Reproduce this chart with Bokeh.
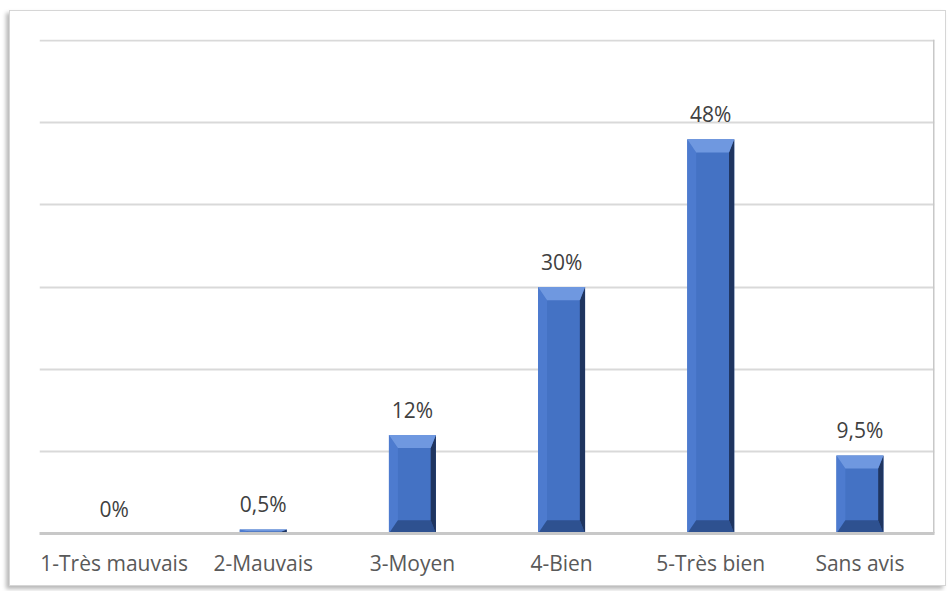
from bokeh.plotting import figure
from bokeh.models import Range1d, FixedTicker, Span, ColumnDataSource
from bokeh.core.properties import value
from bokeh.embed import file_html
from bokeh.resources import INLINE

categories = ["1-Très mauvais", "2-Mauvais", "3-Moyen", "4-Bien", "5-Très bien", "Sans avis"]
values = [0, 0.5, 12, 30, 48, 9.5]
y_ticks = [10, 20, 30, 40, 50, 60]

labels = [("%g" % v).replace(".", ",") + "%" for v in values]
xs = [i + 0.5 for i in range(len(categories))]

FONT = "Open Sans"
BAR_W = 0.315
BEV_X = 0.06
BEV_XR = 0.035
BEV_Y = 1.6

p = figure(width=937, height=576, x_range=Range1d(0, len(categories)), y_range=Range1d(0, 60.15),
           output_backend="svg", toolbar_location=None,
           min_border_left=29, min_border_right=13, min_border_top=28, min_border_bottom=54,
           styles={"border": "1px solid #d6d6d6", "box-shadow": "-3px 3px 4px rgba(0,0,0,0.28)",
                   "margin-left": "9px", "margin-top": "10px"})
p.outline_line_color = None
p.background_fill_color = "white"
p.border_fill_color = "white"

p.yaxis.visible = False
p.xgrid.visible = False
p.ygrid.ticker = FixedTicker(ticks=y_ticks)
p.ygrid.grid_line_color = "#d9d9d9"
p.ygrid.grid_line_width = 2

ax = p.xaxis[0]
ax.ticker = FixedTicker(ticks=xs)
ax.major_label_overrides = {x: c for x, c in zip(xs, categories)}
ax.major_tick_line_color = None
ax.minor_tick_line_color = None
ax.axis_line_color = "#c8c8c8"
ax.axis_line_width = 3
ax.major_label_text_font = FONT
ax.major_label_text_font_size = "21px"
ax.major_label_text_color = "#595959"
ax.major_label_standoff = 9

p.add_layout(Span(location=len(categories), dimension="height", line_color="#c8c8c8", line_width=3))

# bars with bevel
face_x, face_top = [], []
top_xs, top_ys, right_xs, right_ys, bot_xs, bot_ys, left_xs, left_ys = [], [], [], [], [], [], [], []
for x, v in zip(xs, values):
    if v <= 0:
        continue
    x0, x1 = x - BAR_W / 2, x + BAR_W / 2
    b = min(BEV_Y, v / 2)
    face_x.append(x)
    face_top.append(v)
    top_xs.append([x0, x1, x1 - BEV_XR, x0 + BEV_X]); top_ys.append([v, v, v - b, v - b])
    right_xs.append([x1, x1, x1 - BEV_XR, x1 - BEV_XR]); right_ys.append([v, 0, b, v - b])
    bot_xs.append([x0, x1, x1 - BEV_XR, x0 + BEV_X]); bot_ys.append([0, 0, b, b])
    left_xs.append([x0, x0, x0 + BEV_X, x0 + BEV_X]); left_ys.append([v, 0, b, v - b])

p.vbar(x=face_x, top=face_top, bottom=0, width=BAR_W, fill_color="#4472c4", line_color=None)
p.patches(left_xs, left_ys, fill_color="#4d7bcf", line_color=None)
p.patches(bot_xs, bot_ys, fill_color="#2e5190", line_color=None)
p.patches(right_xs, right_ys, fill_color="#1f3560", line_color=None)
p.patches(top_xs, top_ys, fill_color="#6f98e0", line_color=None)

src = ColumnDataSource(dict(x=xs, y=values, t=labels))
p.text(x="x", y="y", text="t", source=src, text_align="center", text_baseline="middle",
       y_offset=-25, text_font=value(FONT), text_font_size="21px", text_color="#404040")

open("out.html", "w").write(file_html(p, INLINE))
